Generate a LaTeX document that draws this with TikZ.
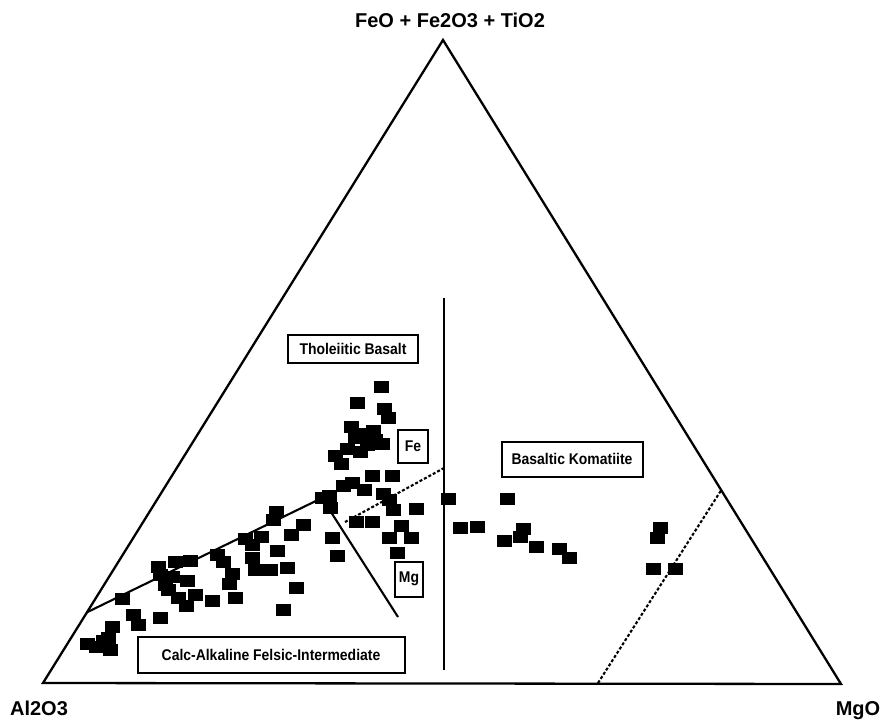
\documentclass[tikz,border=0pt]{standalone}
\usepackage{fontspec}
\setmainfont{Liberation Sans}
\newfontfamily\labfont[FakeStretch=0.9]{Liberation Sans}
\usetikzlibrary{calc}
\begin{document}
\begin{tikzpicture}[x=1pt,y=-1pt,
  edge/.style={line width=2.3pt, line join=miter},
  bound/.style={line width=2.1pt},
  dashbound/.style={line width=2.1pt, dash pattern=on 3pt off 2pt},
  pt/.style={rectangle, fill=black, minimum width=15pt, minimum height=12pt, inner sep=0pt},
  labelbox/.style={draw, line width=2pt, inner sep=0pt, font=\labfont\bfseries\fontsize{15.5}{17}\selectfont},
  apex/.style={font=\bfseries\fontsize{20}{22}\selectfont, inner sep=0pt}
]
\useasboundingbox (0,0) rectangle (882,719);
\fill[white] (0,0) rectangle (882,719);
% triangle
\coordinate (A) at (43,683);
\coordinate (B) at (841,684);
\coordinate (C) at (443,40);
\draw[edge] (A) -- (C) -- (B) -- cycle;
% vertex labels
\node[apex] (ltop) at (450,20) {FeO + Fe2O3 + TiO2};
\node[apex] (lal) at (39,708) {Al2O3};
\node[apex] (lmg) at (858,711) {MgO};
% boundaries
\coordinate (L1) at ($(A)!0.11!(C)$);
\coordinate (J) at (322,498);
\coordinate (M1) at (398,617);
\coordinate (V1) at (444,298);
\coordinate (V2) at (444,670);
\coordinate (D1) at (345,522);
\coordinate (D2) at (444,468);
\coordinate (R1) at (598,683);
\coordinate (R2) at ($(C)!0.699!(B)$);
\draw[bound] (L1) -- (J) -- (M1);
\draw[line width=2.4pt] (V1) -- (V2);
\draw[dashbound] (D1) -- (D2);
\draw[dashbound] (R1) -- (R2);
% data points
\foreach \x/\y [count=\i] in {
 448/499,507/499,460/528,477/527,523/529,520/537,504/541,536/547,559/549,569/558,
 660/528,657/538,653/569,675/569,
 381/387,357/403,384/409,388/418,351/427,363/434,373/431,382/444,367/445,347/449,
 335/456,341/464,372/476,392/476,343/486,352/483,322/498,329/496,364/490,383/494,
 389/500,393/510,330/508,416/509,303/525,356/522,372/522,401/526,332/538,389/538,
 411/538,337/556,397/553,355/438,375/440,360/452,
 276/512,273/520,291/535,245/539,261/537,252/545,277/551,217/555,223/562,252/558,
 255/570,270/570,287/568,190/561,232/574,229/584,296/588,212/601,235/598,283/610,
 158/567,172/577,168/590,178/598,187/581,186/606,122/599,133/615,138/625,112/627,
 160/618,87/644,103/641,108/638,110/650,96/647,165/585,195/595,160/575,175/562}
 \node[pt] (p\i) at (\x,\y) {};
% field labels
\node[labelbox, minimum width=130pt, minimum height=28pt] (tb) at (353,349) {Tholeiitic Basalt};
\node[labelbox, minimum width=30pt, minimum height=33pt] (fe) at (413,446) {Fe};
\node[labelbox, minimum width=28pt, minimum height=35pt] (mg) at (409,579) {Mg};
\node[labelbox, minimum width=267pt, minimum height=36pt] (ca) at (271,655) {Calc-Alkaline Felsic-Intermediate};
\node[labelbox, minimum width=141pt, minimum height=35pt] (bk) at (572,459) {Basaltic Komatiite};
\end{tikzpicture}
\end{document}
